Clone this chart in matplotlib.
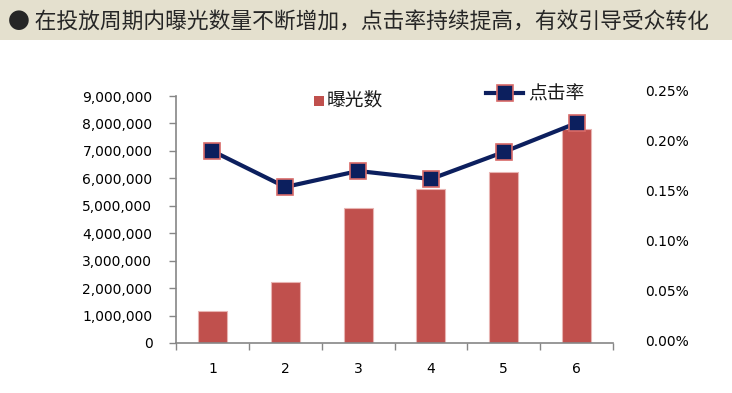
import matplotlib
matplotlib.use("Agg")
import matplotlib.pyplot as plt
from matplotlib.patches import Rectangle
from matplotlib.lines import Line2D
from matplotlib.ticker import FuncFormatter, MultipleLocator, FixedLocator

plt.rcParams['font.family'] = ['Noto Sans CJK SC', 'DejaVu Sans']

categories = ['1', '2', '3', '4', '5', '6']
exposure = [1180000, 2220000, 4920000, 5610000, 6230000, 7800000]
ctr = [0.190, 0.154, 0.170, 0.162, 0.189, 0.218]  # percent
title = "● 在投放周期内曝光数量不断增加，点击率持续提高，有效引导受众转化"
bar_label = "曝光数"
line_label = "点击率"

W, H = 732, 393
fig = plt.figure(figsize=(W / 100, H / 100), dpi=100)
fig.patch.set_facecolor('white')

# title bar
fig.patches.append(Rectangle((0, 1 - 40 / H), 1, 40 / H, transform=fig.transFigure,
                             facecolor='#E4E0CE', edgecolor='none', zorder=0))
fig.text(8 / W, 1 - 22 / H, title, fontsize=15.7, color='#262626',
         ha='left', va='center', fontweight='medium')

x = list(range(len(categories)))
bar_color = '#C0504D'
line_color = '#0C1F5E'

ax = fig.add_axes([176 / W, 1 - 343 / H, (613 - 176) / W, (343 - 96) / H])
ax.bar(x, exposure, width=0.4, color=bar_color, edgecolor='#E8B4B2', linewidth=0.8, zorder=2)
ax.set_xlim(-0.5, len(categories) - 0.5)
ax.set_ylim(0, 9000000)
ax.yaxis.set_major_locator(MultipleLocator(1000000))
ax.yaxis.set_major_formatter(FuncFormatter(lambda v, p: f"{int(v):,}"))
ax.set_xticks(x)
ax.set_xticklabels(categories)
ax.xaxis.set_minor_locator(FixedLocator([i - 0.5 for i in range(len(categories) + 1)]))
ax.tick_params(axis='x', which='major', length=0, pad=14)
ax.tick_params(axis='x', which='minor', length=5, color='#868686', width=1, direction='out')
ax.tick_params(axis='y', length=5, color='#868686', width=1, direction='out', pad=12)
for lab in ax.get_xticklabels() + ax.get_yticklabels():
    lab.set_fontfamily('DejaVu Sans')
    lab.set_fontsize(10)
for s in ['top', 'right']:
    ax.spines[s].set_visible(False)
for s in ['left', 'bottom']:
    ax.spines[s].set_color('#868686')
    ax.spines[s].set_linewidth(1.2)
ax.set_facecolor('none')

ax2 = fig.add_axes([176 / W, 1 - 341 / H, (613 - 176) / W, (341 - 91) / H])
ax2.set_facecolor('none')
ax2.plot(x, ctr, color=line_color, linewidth=3, marker='s', markersize=11,
         markerfacecolor=line_color, markeredgecolor='#D86A68', markeredgewidth=1.2,
         zorder=3, clip_on=False)
ax2.set_xlim(-0.5, len(categories) - 0.5)
ax2.set_ylim(0, 0.25)
ax2.yaxis.set_major_locator(MultipleLocator(0.05))
ax2.yaxis.set_major_formatter(FuncFormatter(lambda v, p: f"{v:.2f}%"))
ax2.yaxis.tick_right()
ax2.tick_params(axis='y', length=0, pad=23)
for lab in ax2.get_yticklabels():
    lab.set_fontfamily('DejaVu Sans')
    lab.set_fontsize(10)
ax2.set_xticks([])
for s in ax2.spines.values():
    s.set_visible(False)

# legends
fig.patches.append(Rectangle((314 / W, 1 - 106 / H), 10 / W, 10 / H, transform=fig.transFigure,
                             facecolor=bar_color, edgecolor='none'))
fig.text(327 / W, 1 - 100 / H, bar_label, fontsize=13.5, color='#1a1a1a', ha='left', va='center')

fig.lines.append(Line2D([486 / W, 523 / W], [1 - 93 / H, 1 - 93 / H], transform=fig.transFigure,
                        color=line_color, linewidth=3))
fig.lines.append(Line2D([505 / W], [1 - 93 / H], transform=fig.transFigure, marker='s',
                        markersize=11, markerfacecolor=line_color, markeredgecolor='#D86A68',
                        markeredgewidth=1.2, linestyle='none'))
fig.text(528 / W, 1 - 94 / H, line_label, fontsize=13.5, color='#1a1a1a', ha='left', va='center')

fig.savefig('out.png', dpi=100)
